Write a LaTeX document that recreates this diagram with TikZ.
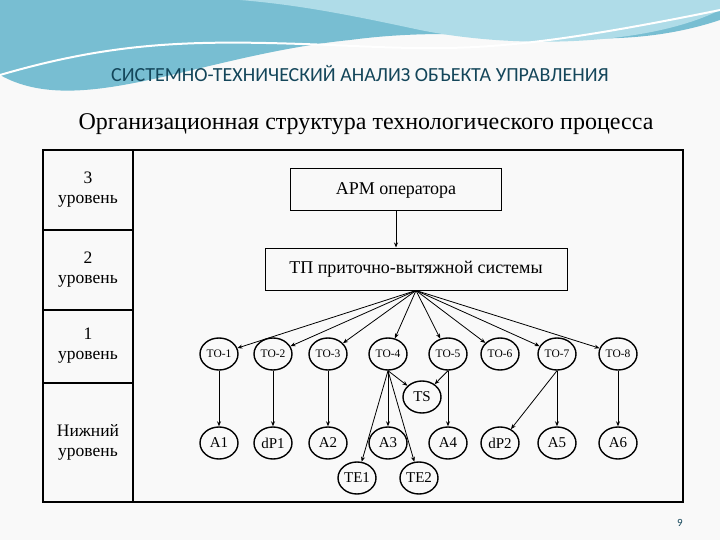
\documentclass[tikz,border=0pt]{standalone}
\usepackage{fontspec}
\setmainfont{Liberation Serif}
\newfontfamily\titlefont{Carlito}
\usetikzlibrary{arrows.meta,shapes.geometric}
\definecolor{wavea}{RGB}{120,190,210}
\definecolor{waveb}{RGB}{175,220,232}
\definecolor{titleblue}{RGB}{20,70,90}
\begin{document}
\begin{tikzpicture}[x=1pt,y=-1pt,
    box/.style={draw,line width=1pt,inner sep=0pt,minimum height=42pt,font=\fontsize{18}{18}\selectfont},
    obj/.style={draw,ellipse,line width=1.4pt,minimum width=38pt,minimum height=32pt,inner sep=0pt,font=\fontsize{15}{15}\selectfont},
    tobj/.style={obj,font=\fontsize{11.5}{11.5}\selectfont},
    link/.style={-{Stealth[length=5pt,width=4pt]},line width=0.8pt}]
\useasboundingbox (0,0) rectangle (720,540);
\fill[white!95!gray] (0,0) rectangle (720,540);
%WAVE
\fill[wavea] (0,0) -- (720,0) -- (720,20) .. controls (600,60) and (500,20) .. (350,40) .. controls (200,55) and (80,120) .. (0,75) -- cycle;
\fill[waveb] (240,0) -- (720,0) -- (720,10) .. controls (650,45) and (520,50) .. (420,30) .. controls (350,15) and (300,5) .. (240,0) -- cycle;
\draw[white,line width=2pt] (0,75) .. controls (120,40) and (200,40) .. (330,45) .. controls (450,50) and (500,55) .. (720,10);
%TITLES
\node[font=\titlefont\fontsize{20}{20}\selectfont,text=titleblue] (title) at (360,74) {СИСТЕМНО-ТЕХНИЧЕСКИЙ АНАЛИЗ ОБЪЕКТА УПРАВЛЕНИЯ};
\node[font=\fontsize{24}{24}\selectfont] (sub) at (366,124) {Организационная структура технологического процесса};
%TABLE
\draw[line width=1.4pt] (43,150) rectangle (683,502);
\draw[line width=1.4pt] (133,150) -- (133,502);
\foreach \y in {230,310,383}
  \draw[line width=1.4pt] (43,\y) -- (133,\y);
\foreach \y/\t in {190/{3\\уровень},270/{2\\уровень},346/{1\\уровень},442/{Нижний\\уровень}}
  \node[align=center,font=\fontsize{17.5}{20}\selectfont] at (88,\y) {\t};
%LEVELS
\node[box,minimum width=211pt] (arm) at (396,190) {АРМ оператора};
\node[box,minimum width=302pt] (tp) at (416,269) {ТП приточно-вытяжной системы};
\draw[link] (arm.south) -- (arm.south |- tp.north);
\foreach \n/\x in {1/219,2/273,3/328,4/388,5/448,6/500,7/557,8/618}{
  \node[tobj] (to\n) at (\x,354) {ТО-\n};
  \draw[link] (tp.south) -- (to\n);
}
\foreach \n/\x in {a1/219,dp1/273,a2/328,a3/388,a4/448,dp2/500,a5/557,a6/618}
  \coordinate (c\n) at (\x,443);
\node[obj] (a1) at (ca1) {A1};
\node[obj] (dp1) at (cdp1) {dP1};
\node[obj] (a2) at (ca2) {A2};
\node[obj] (a3) at (ca3) {A3};
\node[obj] (a4) at (ca4) {A4};
\node[obj] (dp2) at (cdp2) {dP2};
\node[obj] (a5) at (ca5) {A5};
\node[obj] (a6) at (ca6) {A6};
\node[obj] (ts) at (422,397) {TS};
\node[obj] (te1) at (357,478) {TE1};
\node[obj] (te2) at (419,478) {TE2};
\draw[link] (to1) -- (a1);
\draw[link] (to2) -- (dp1);
\draw[link] (to3) -- (a2);
\draw[link] (to4.south) -- (a3);
\draw[link] (to4.south) -- (te1);
\draw[link] (to4.south) -- (te2);
\draw[link] (to4.south) -- (ts);
\draw[link] (to5.south) -- (ts);
\draw[link] (to5.south) -- (a4);
\draw[link] (to7.south) -- (dp2);
\draw[link] (to7.south) -- (a5);
\draw[link] (to8) -- (a6);
\node[font=\titlefont\fontsize{11}{11}\selectfont,text=titleblue] (page) at (680,523) {9};
\end{tikzpicture}
\end{document}
